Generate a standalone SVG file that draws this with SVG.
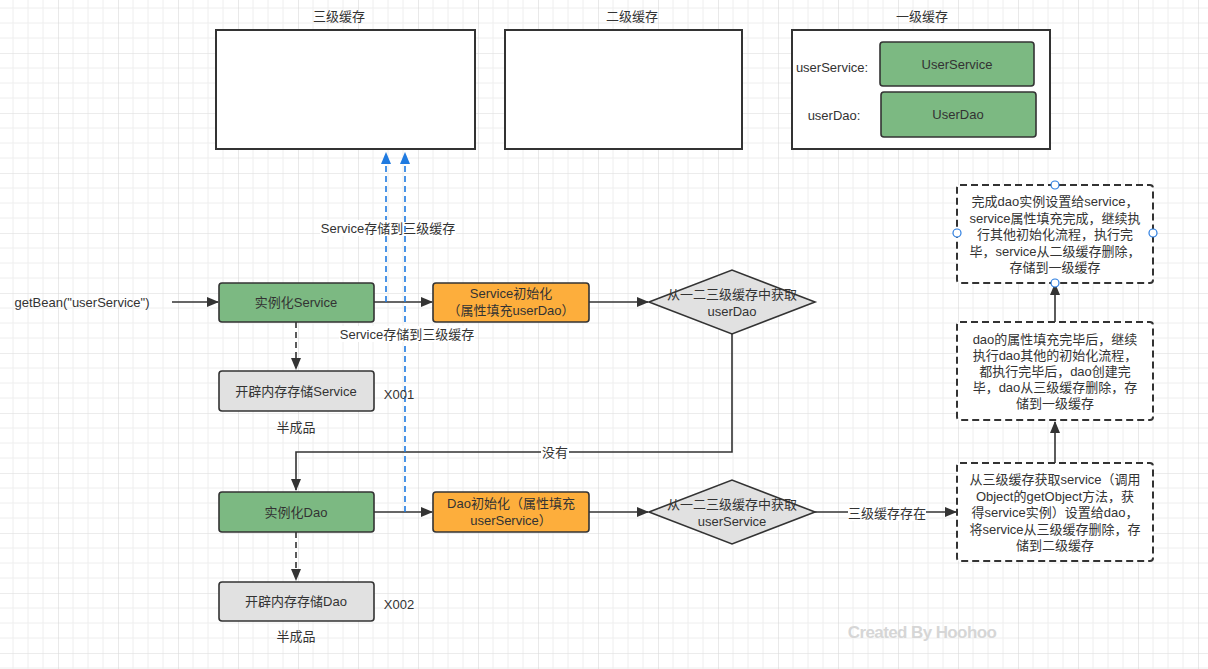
<svg xmlns="http://www.w3.org/2000/svg" width="1208" height="669" viewBox="0 0 1208 669">
<style>
text{font-family:"Liberation Sans","Noto Sans CJK SC",sans-serif;font-size:13px;fill:#333;text-anchor:middle;dominant-baseline:central}
.box{fill:#fff;stroke:#333;stroke-width:2}
.green{fill:#7cb982;stroke:#333;stroke-width:1.6}
.orange{fill:#fdae3c;stroke:#333;stroke-width:1.6}
.gray{fill:#e1e1e1;stroke:#333;stroke-width:1.6}
.dbox{fill:#fff;stroke:#333;stroke-width:2;stroke-dasharray:7 4}
.line{fill:none;stroke:#333;stroke-width:1.6}
.dline{fill:none;stroke:#333;stroke-width:1.6;stroke-dasharray:6 4}
.blue{fill:none;stroke:#1f7ae0;stroke-width:1.6;stroke-dasharray:6 4}
.lbl{fill:#fff}
.handle{fill:#fff;stroke:#2b7de0;stroke-width:1.2}
</style>
<defs>
<pattern id="grid" width="60" height="60" patternUnits="userSpaceOnUse" patternTransform="translate(-2,-7)">
<path d="M15 0V60M30 0V60M45 0V60M0 15H60M0 30H60M0 45H60" stroke="#eeeeee" stroke-width="1" fill="none"/>
<path d="M0 0V60M0 0H60" stroke="#dadada" stroke-width="1.2" fill="none"/>
</pattern>
<marker id="arr" markerUnits="userSpaceOnUse" markerWidth="12" markerHeight="10" refX="11" refY="5" orient="auto">
<path d="M0 0L12 5L0 10Z" fill="#333"/>
</marker>
<marker id="barr" markerUnits="userSpaceOnUse" markerWidth="12" markerHeight="10" refX="11" refY="5" orient="auto">
<path d="M0 0L12 5L0 10Z" fill="#1f7ae0"/>
</marker>
</defs>
<rect width="1208" height="669" fill="#fff"/>
<rect width="1208" height="669" fill="url(#grid)"/>

<g id="cache3">
<text x="339" y="16">三级缓存</text>
<rect class="box" x="216" y="30" width="259" height="119"/>
</g>
<g id="cache2">
<text x="632" y="16">二级缓存</text>
<rect class="box" x="505" y="30" width="237" height="119"/>
</g>
<g id="cache1">
<text x="922" y="16">一级缓存</text>
<rect class="box" x="792" y="30" width="258" height="119"/>
<text x="832" y="67">userService:</text>
<text x="834" y="115">userDao:</text>
</g>
<g id="userServiceObj">
<rect class="green" x="880" y="42" width="154" height="44" rx="3"/>
<text x="957" y="64">UserService</text>
</g>
<g id="userDaoObj">
<rect class="green" x="881" y="92" width="155" height="45" rx="3"/>
<text x="958" y="114">UserDao</text>
</g>

<g id="connectors">
<text x="82" y="302">getBean("userService")</text>
<path class="line" d="M172 302H218" marker-end="url(#arr)"/>
<path class="line" d="M374 302H432" marker-end="url(#arr)"/>
<path class="line" d="M589 302H648" marker-end="url(#arr)"/>
<path class="dline" d="M296 322V369" marker-end="url(#arr)"/>
<path class="line" d="M732 334V452H296V490" marker-end="url(#arr)"/>
<rect class="lbl" x="541" y="444" width="28" height="16"/>
<text x="555" y="452">没有</text>
<path class="line" d="M374 512H432" marker-end="url(#arr)"/>
<path class="line" d="M589 512H648" marker-end="url(#arr)"/>
<path class="dline" d="M296 532V580" marker-end="url(#arr)"/>
<path class="line" d="M815 512H956" marker-end="url(#arr)"/>
<rect class="lbl" x="848" y="505" width="78" height="16"/>
<text x="887" y="513">三级缓存存在</text>
<path class="line" d="M1055 463V422" marker-end="url(#arr)"/>
<path class="line" d="M1055 322V284" marker-end="url(#arr)"/>
<path class="blue" d="M386 302V153" marker-end="url(#barr)"/>
<rect class="lbl" x="320" y="220" width="136" height="16"/>
<text x="388" y="228">Service存储到三级缓存</text>
<path class="blue" d="M405 512V153" marker-end="url(#barr)"/>
<rect class="lbl" x="339" y="326" width="136" height="16"/>
<text x="407" y="334">Service存储到三级缓存</text>
</g>

<g id="instService">
<rect class="green" x="219" y="283" width="155" height="39" rx="3"/>
<text x="296" y="302">实例化Service</text>
</g>
<g id="initService">
<rect class="orange" x="433" y="283" width="156" height="39" rx="3"/>
<text x="511" y="293">Service初始化</text>
<text x="511" y="310">（属性填充userDao）</text>
</g>
<g id="getUserDao">
<path class="gray" d="M649 302L732 270L815 302L732 334Z"/>
<text x="732" y="294">从一二三级缓存中获取</text>
<text x="732" y="311">userDao</text>
</g>
<g id="allocService">
<rect class="gray" x="219" y="371" width="155" height="40" rx="3"/>
<text x="296" y="391">开辟内存存储Service</text>
<text x="399" y="394">X001</text>
<text x="296" y="427">半成品</text>
</g>
<g id="instDao">
<rect class="green" x="219" y="492" width="155" height="40" rx="3"/>
<text x="296" y="512">实例化Dao</text>
</g>
<g id="initDao">
<rect class="orange" x="433" y="492" width="156" height="40" rx="3"/>
<text x="511" y="503">Dao初始化（属性填充</text>
<text x="511" y="520">userService）</text>
</g>
<g id="getUserService">
<path class="gray" d="M649 512L732 480L815 512L732 544Z"/>
<text x="732" y="504">从一二三级缓存中获取</text>
<text x="732" y="521">userService</text>
</g>
<g id="allocDao">
<rect class="gray" x="219" y="582" width="155" height="39" rx="3"/>
<text x="296" y="601">开辟内存存储Dao</text>
<text x="399" y="604">X002</text>
<text x="296" y="636">半成品</text>
</g>
<g id="step1">
<rect class="dbox" x="957" y="463" width="196" height="98" rx="3"/>
<text x="1055" y="479">从三级缓存获取service（调用</text>
<text x="1055" y="496">Object的getObject方法，获</text>
<text x="1055" y="512">得service实例）设置给dao，</text>
<text x="1055" y="529">将service从三级缓存删除，存</text>
<text x="1055" y="545">储到二级缓存</text>
</g>
<g id="step2">
<rect class="dbox" x="957" y="322" width="196" height="98" rx="3"/>
<text x="1055" y="339">dao的属性填充完毕后，继续</text>
<text x="1055" y="355">执行dao其他的初始化流程，</text>
<text x="1055" y="371">都执行完毕后，dao创建完</text>
<text x="1055" y="387">毕，dao从三级缓存删除，存</text>
<text x="1055" y="403">储到一级缓存</text>
</g>
<g id="step3">
<rect class="dbox" x="957" y="185" width="196" height="98" rx="3"/>
<text x="1055" y="201">完成dao实例设置给service，</text>
<text x="1055" y="218">service属性填充完成，继续执</text>
<text x="1055" y="234">行其他初始化流程，执行完</text>
<text x="1055" y="251">毕，service从二级缓存删除，</text>
<text x="1055" y="267">存储到一级缓存</text>
<circle class="handle" cx="1055" cy="185" r="4"/>
<circle class="handle" cx="957" cy="233" r="4"/>
<circle class="handle" cx="1153" cy="233" r="4"/>
<circle class="handle" cx="1055" cy="283" r="4"/>
</g>
<text x="922" y="632" style="font-size:17px;font-weight:bold;fill:#d6d6d6;letter-spacing:-0.6px">Created By Hoohoo</text>
</svg>
